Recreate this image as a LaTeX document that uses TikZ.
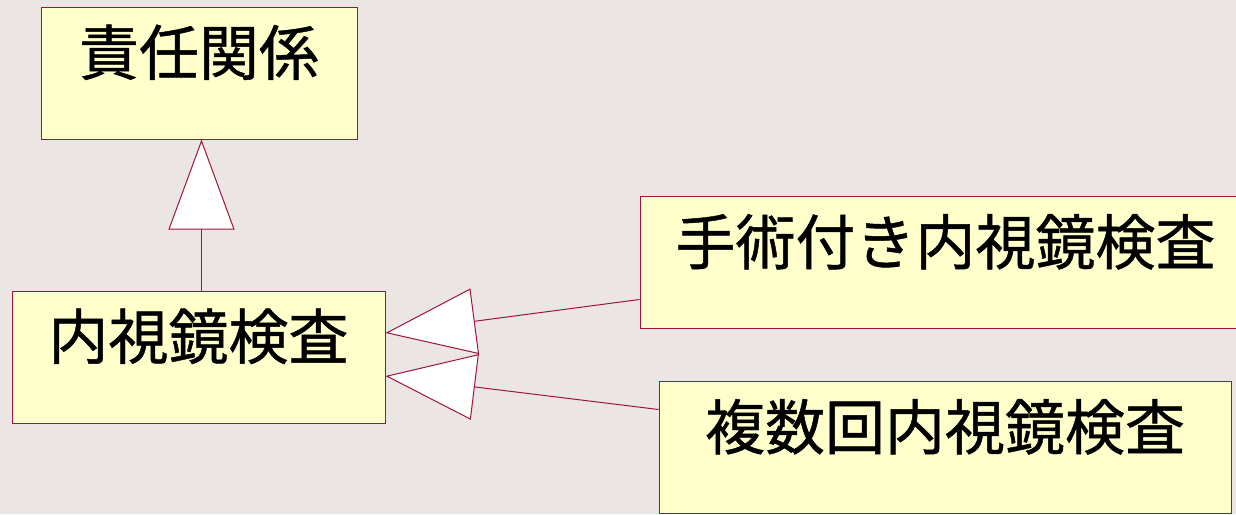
\documentclass[tikz,border=0pt]{standalone}
\usepackage{fontspec}
\newfontfamily\jpfont[FakeBold=0.8]{Noto Sans CJK JP}
\usepackage{tikz}
\usetikzlibrary{arrows.meta}
\definecolor{bgcol}{RGB}{235,230,227}
\definecolor{boxfill}{RGB}{255,255,204}
\definecolor{edgecol}{RGB}{158,20,64}

\begin{document}
\begin{tikzpicture}[x=1pt, y=-1pt,
    every node/.style={rectangle, draw=edgecol, fill=boxfill, line width=1pt, inner sep=0pt,
      text height=68pt, text depth=64pt, font=\jpfont\fontsize{60}{70}\selectfont},
    gen/.style={draw=edgecol, line width=1pt, -{Triangle[length=90pt, width=66pt, fill=white]}}]
			% Background
			\fill[bgcol] (0,0) rectangle (1236,514);
			\useasboundingbox (0,0) rectangle (1236,514);
			\clip (0,0) rectangle (1236,514);
			% Nodes
			\node[minimum width=316pt] (resp) at (199,73) {責任関係};
			\node[minimum width=373pt] (endo) at (198.5,357) {内視鏡検査};
			\node[minimum width=611pt] (surg) at (945.5,262.5) {手術付き内視鏡検査};
			\node[minimum width=572pt] (multi) at (945,447.5) {複数回内視鏡検査};
			% Generalizations
			\draw[gen] ([xshift=3pt]endo.north) -- ([xshift=3pt]endo.north |- resp.south);
			\draw[gen] ([yshift=-37pt]surg.west) -- ([yshift=24pt]endo.east);
			\draw[gen] ([yshift=38pt]multi.west) -- ([yshift=-19pt]endo.east);
		\end{tikzpicture}
\end{document}
